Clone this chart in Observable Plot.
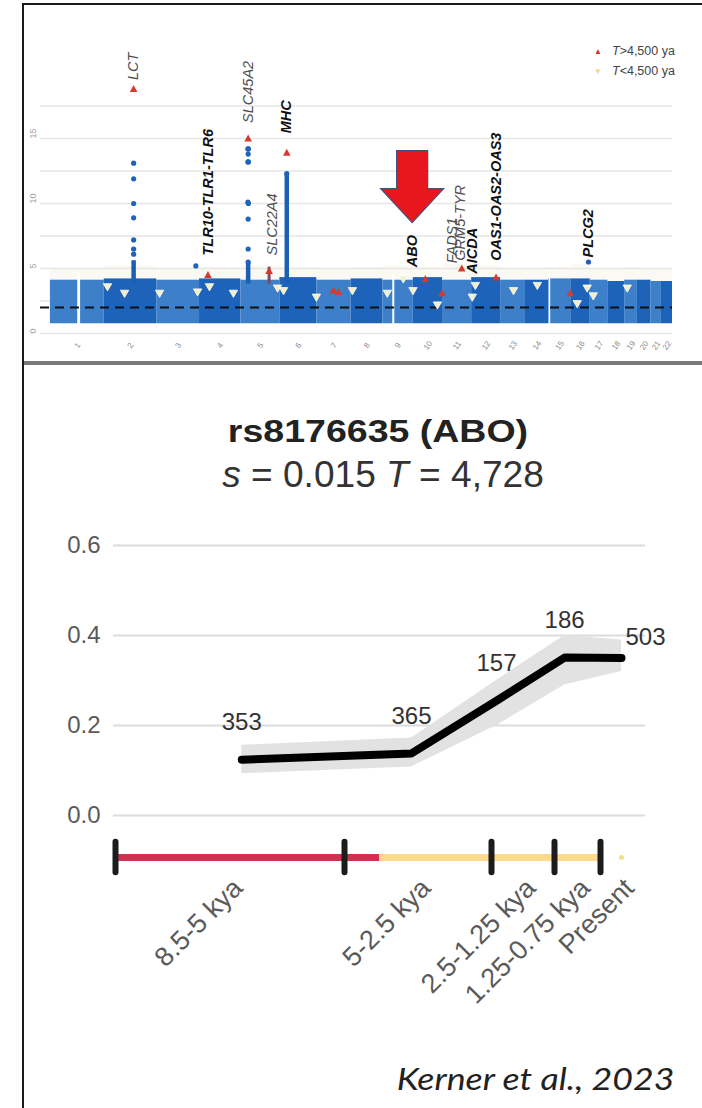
<!DOCTYPE html>
<html>
<head>
<meta charset="utf-8">
<script src="https://cdn.jsdelivr.net/npm/d3@7"></script>
<script src="https://cdn.jsdelivr.net/npm/@observablehq/plot@0.6"></script>
<style>
  html, body { margin: 0; padding: 0; background: #fff; }
  #page { position: relative; width: 702px; height: 1108px; overflow: hidden; font-family: "Liberation Sans", Arial, sans-serif; background: #fff; }
  #frame { position: absolute; left: 22px; top: 3px; width: 720px; height: 1140px; border: 2px solid #1a1a1a; box-sizing: border-box; }
  #sep { position: absolute; left: 24px; top: 361px; width: 678px; height: 4px; background: #7a7a7a; }
  #topPlot { position: absolute; left: 24px; top: 5px; }
  #bottomPlot { position: absolute; left: 24px; top: 500px; }
  .leg { position: absolute; font-size: 12.5px; color: #444; white-space: nowrap; line-height: 14px; }
  .title { position: absolute; left: 0; text-align: center; white-space: nowrap; line-height: 1; }
  #title { top: 416px; width: 756px; font-size: 31px; font-weight: bold; color: #222; transform: scaleX(1.21); transform-origin: 378px 0; }
  #subtitle { top: 457px; width: 766px; font-size: 36px; color: #333; transform: scaleX(1.03); transform-origin: 383px 0; }
  #caption { position: absolute; right: 28px; top: 1063px; font-family: Lato, "Open Sans", sans-serif; font-style: italic; font-size: 30px; color: #222; line-height: 1; white-space: nowrap; transform: scaleX(1.19); transform-origin: 100% 0; }
</style>
</head>
<body>
<div id="page">
  <div id="frame"></div>
  <div id="topPlot"></div>
  <div id="sep"></div>
  <div class="leg" style="left:594px; top:44px;"><span style="color:#c8342c; font-size:8px; position:relative; top:-1px;">&#9650;</span></div>
  <div class="leg" style="left:612px; top:44px;"><i>T</i>&gt;4,500 ya</div>
  <div class="leg" style="left:594px; top:64px;"><span style="color:#f4d27c; font-size:8px; position:relative; top:-1px;">&#9660;</span></div>
  <div class="leg" style="left:612px; top:64px;"><i>T</i>&lt;4,500 ya</div>
  <div id="title" class="title">rs8176635 (ABO)</div>
  <div id="subtitle" class="title"><i>s</i> = 0.015 <i>T</i> = 4,728</div>
  <div id="bottomPlot"></div>
  <div id="caption">Kerner et al., 2023</div>
</div>
<script>
// ---------------- Top panel: genome-wide scan (Manhattan-style) ----------------
const chromosomes = ["1","2","3","4","5","6","7","8","9","10","11","12","13","14","15","16","17","18","19","20","21","22"];
const chromLengthMb = [249.3, 243.2, 198.0, 191.2, 180.9, 171.1, 159.1, 146.4, 141.2, 135.5, 135.0, 133.9, 115.2, 107.3, 102.5, 90.4, 81.2, 78.1, 59.1, 63.0, 48.1, 51.3];
// approximate top of the dense band of SNPs per chromosome (-log10 p)
const bandTop = [4.1, 4.2, 4.1, 4.2, 4.1, 4.3, 4.1, 4.2, 4.1, 4.3, 4.1, 4.3, 4.1, 4.1, 4.2, 4.2, 4.1, 4.0, 4.1, 4.1, 4.0, 4.0];
// faint scatter of weaker SNPs above the dense band
const hazeTop = [5.0, 5.2, 5.0, 5.1, 5.2, 5.1, 5.0, 5.1, 5.2, 5.1, 5.3, 5.2, 5.0, 5.0, 5.1, 5.3, 5.0, 5.0, 5.1, 5.0, 5.0, 5.0];
const bandBottom = 0.75;
// gaps (no SNPs): [chromosome, startMb, endMb]
const bandGaps = [[1, 124, 142], [9, 44, 58], [15, 0, 12]];
// dense columns of significant SNPs: [chromosome, Mb, top]
const peakColumns = [[2, 136, 5.6], [5, 34, 5.5], [6, 32, 12.3]];
const spikeColumns = [[5, 131, 5.1]];
// individual significant SNPs (blue): [chromosome, Mb, value]
const blueSnps = [
  [2, 136, 13.1], [2, 136, 11.9], [2, 136, 10.0], [2, 136, 8.9], [2, 136, 7.2], [2, 136, 6.5], [2, 136, 6.1],
  [5, 33, 14.2], [5, 35, 14.2], [5, 34, 13.8], [5, 33, 13.2], [5, 35, 13.2], [5, 33, 10.1], [5, 35, 10.0], [5, 34, 8.8], [5, 34, 6.5], [5, 34, 5.5],
  [6, 32, 12.3], [3, 181, 5.2], [16, 82, 5.5]
];
// selection onset T > 4,500 ya (red, up triangles): [chromosome, Mb, value]
const oldSelection = [
  [2, 136, 18.8], [5, 34, 15.0], [6, 32, 13.9], [4, 39, 4.5], [5, 131, 4.8],
  [7, 77, 3.3], [7, 100, 3.2], [10, 56, 4.2], [10, 133, 3.1], [11, 89, 5.0], [12, 113, 4.3], [15, 100, 3.1]
];
// selection onset T < 4,500 ya (pale yellow, down triangles): [chromosome, Mb, value]
const recentSelection = [
  [2, 15, 3.6], [2, 94, 3.1], [3, 13, 3.1], [3, 189, 3.2], [4, 46, 3.6], [4, 157, 3.1], [5, 170, 3.5],
  [6, 17, 3.3], [6, 169, 2.8], [8, 6, 3.3], [9, 21, 3.1], [9, 95, 4.2], [9, 140, 3.3], [10, 112, 2.2],
  [12, 3, 2.8], [12, 17, 3.7], [13, 60, 3.3], [14, 55, 3.7], [16, 30, 2.3], [16, 76, 3.5], [17, 14, 2.9], [19, 12, 3.5]
];
// gene labels: [name, chromosome, Mb, label base value, bold]
const geneLabels = [
  ["LCT", 2, 136, 19.5, false],
  ["SLC45A2", 5, 34, 16.2, false],
  ["TLR10-TLR1-TLR6", 4, 40, 6.0, true],
  ["SLC22A4", 5, 147, 6.0, false],
  ["MHC", 6, 32, 15.4, true],
  ["ABO", 9, 136, 5.1, true],
  ["FADS1", 11, 47, 5.4, false],
  ["GRM5-TYR", 11, 84, 5.6, false],
  ["AICDA", 12, 5, 4.6, true],
  ["OAS1-OAS2-OAS3", 12, 113, 5.6, true],
  ["PLCG2", 16, 82, 5.85, true]
];
// highlighted locus (arrow): [chromosome, Mb, arrow centre value]
const highlight = [[9, 136, 11.3]];
const significanceLine = 2.0;
const gridTicksTop = [0, 2.5, 5, 7.5, 10, 12.5, 15, 17.5];
const labelTicksTop = [0, 5, 10, 15];

// cumulative genomic coordinate
const starts = [];
{ let acc = 0; for (const l of chromLengthMb) { starts.push(acc); acc += l; } }
const genomeEnd = starts[21] + chromLengthMb[21];
const gpos = (c, mb) => starts[c - 1] + mb;

const bands = chromosomes.map((c, i) => ({ x1: starts[i], x2: starts[i] + chromLengthMb[i], y1: bandBottom, y2: bandTop[i], haze: hazeTop[i], odd: i % 2 === 0 }));
const centers = chromosomes.map((c, i) => ({ label: c, x: starts[i] + chromLengthMb[i] / 2 }));
const toPt = ([c, mb, v]) => ({ x: gpos(c, mb), y: v });

const triDown = { draw(ctx) { ctx.moveTo(-4.2, -3); ctx.lineTo(4.2, -3); ctx.lineTo(0, 4.2); ctx.closePath(); } };
const triUp = { draw(ctx) { ctx.moveTo(-3.8, 3); ctx.lineTo(3.8, 3); ctx.lineTo(0, -4); ctx.closePath(); } };
const bigArrow = { draw(ctx) {
  const half = 36, sw = 15.5, hw = 31.5, neck = 2;
  ctx.moveTo(-sw, -half); ctx.lineTo(sw, -half); ctx.lineTo(sw, neck); ctx.lineTo(hw, neck);
  ctx.lineTo(0, half); ctx.lineTo(-hw, neck); ctx.lineTo(-sw, neck); ctx.closePath();
} };

const genes = geneLabels.map(([name, c, mb, v, bold]) => ({ name, x: gpos(c, mb), y: v, bold }));

const topPlot = Plot.plot({
  width: 678, height: 357,
  marginLeft: 16, marginRight: 30, marginTop: 3, marginBottom: 29,
  x: { domain: [-46, genomeEnd], axis: null },
  y: { domain: [0, 25], axis: null },
  style: { background: "transparent", fontFamily: "Liberation Sans, Arial, sans-serif" },
  marks: [
    Plot.ruleY(gridTicksTop, { stroke: "#e6e6e6", strokeWidth: 1.5 }),
    Plot.text(labelTicksTop, { y: d => d, frameAnchor: "left", dx: -7, rotate: -90, text: d => String(d), fontSize: 9, fill: "#a0a0a0" }),
    Plot.text(centers, { x: "x", y: () => 0, text: "label", dy: 12, rotate: -55, fontSize: 8, fill: "#8c8c8c" }),
    Plot.rect(bands, { x1: "x1", x2: "x2", y1: "y2", y2: "haze", fill: "#f0e8d2", fillOpacity: 0.25 }),
    Plot.rect(bands, { x1: "x1", x2: "x2", y1: "y1", y2: "y2", fill: d => d.odd ? "#3d7fc9" : "#1d63b9" }),
    Plot.rect(bandGaps.map(([c, a, b]) => ({ x1: gpos(c, a), x2: gpos(c, b) })), { x1: "x1", x2: "x2", y1: bandBottom - 0.2, y2: 4.6, fill: "#ffffff", insetLeft: 0.5, insetRight: 0.5 }),
    Plot.ruleX(peakColumns.map(toPt), { x: "x", y1: 3.8, y2: "y", stroke: "#1a5fb3", strokeWidth: 4.5 }),
    Plot.ruleX(spikeColumns.map(toPt), { x: "x", y1: 3.8, y2: "y", stroke: "#7d4a66", strokeWidth: 3 }),
    Plot.ruleY([significanceLine], { stroke: "#111", strokeWidth: 2, strokeDasharray: "9,6" }),
    Plot.dot(blueSnps.map(toPt), { x: "x", y: "y", r: 2.6, fill: "#1f63b8" }),
    Plot.dot(recentSelection.map(toPt), { x: "x", y: "y", r: 4, symbol: triDown, fill: "#f3efc6", stroke: "#ffffff", strokeWidth: 0.8 }),
    Plot.dot(oldSelection.map(toPt), { x: "x", y: "y", r: 4, symbol: triUp, fill: "#d63a2f" }),
    Plot.text(genes.filter(d => !d.bold), { x: "x", y: "y", text: "name", rotate: -90, textAnchor: "start", fontSize: 14.5, fontStyle: "italic", fill: "#505050" }),
    Plot.text(genes.filter(d => d.bold), { x: "x", y: "y", text: "name", rotate: -90, textAnchor: "start", fontSize: 14.5, fontStyle: "italic", fontWeight: "bold", fill: "#111" }),
    Plot.dot(highlight.map(toPt), { x: "x", y: "y", r: 10, symbol: bigArrow, fill: "#e8171d", stroke: "#40507a", strokeWidth: 1.2 })
  ]
});
document.getElementById("topPlot").appendChild(topPlot);

// ---------------- Bottom panel: allele frequency trajectory ----------------
const epochBoundsKya = [8.5, 5, 2.5, 1.25, 0.75, 0];
const epochLabels = ["8.5-5 kya", "5-2.5 kya", "2.5-1.25 kya", "1.25-0.75 kya", "Present"];
const epochLabelKya = [6.75, 3.75, 1.875, 1.0, 0];
const sampleKya = [6.57, 3.86, 2.4, 1.14, 0];
const alleleFreq = [0.124, 0.138, 0.255, 0.351, 0.350];
const freqLow = [0.093, 0.108, 0.200, 0.290, 0.320];
const freqHigh = [0.156, 0.172, 0.300, 0.400, 0.390];
const sampleSizes = [353, 365, 157, 186, 503];
const freqTicks = [0, 0.2, 0.4, 0.6];
const redSegmentEndKya = 4.4;   // end of red part of the timeline
const timelineLevel = -0.0933;  // vertical placement of timeline below the axis

const traj = sampleKya.map((k, i) => ({ kya: k, f: alleleFreq[i], lo: freqLow[i], hi: freqHigh[i], n: sampleSizes[i] }));
const epochs = epochLabels.map((l, i) => ({ label: l, kya: epochLabelKya[i] }));

const bottomPlot = Plot.plot({
  width: 678, height: 608,
  marginLeft: 89, marginRight: 57, marginTop: 45, marginBottom: 293,
  x: { type: "linear", domain: epochBoundsKya, range: [91, 320, 467, 530, 576, 597], axis: null },
  y: { domain: [0, 0.6], axis: null },
  style: { background: "transparent", fontFamily: "Liberation Sans, Arial, sans-serif" },
  marks: [
    Plot.ruleY(freqTicks, { stroke: "#dcdcdc", strokeWidth: 2 }),
    Plot.text(freqTicks, { y: d => d, frameAnchor: "left", dx: -13, textAnchor: "end", text: d => d.toFixed(1), fontSize: 24, fill: "#5a5a5a" }),
    Plot.areaY(traj, { x: "kya", y1: "lo", y2: "hi", fill: "#e2e2e2" }),
    Plot.line(traj, { x: "kya", y: "f", stroke: "#000", strokeWidth: 8, strokeLinejoin: "round", strokeLinecap: "round" }),
    Plot.text(traj.slice(0, 4), { x: "kya", y: "f", text: d => String(d.n), dy: -37, fontSize: 24, fill: "#333" }),
    Plot.text(traj.slice(4), { x: "kya", y: "f", text: d => String(d.n), dx: 24, dy: -21, fontSize: 24, fill: "#333" }),
    // timeline
    Plot.ruleY([timelineLevel], { x1: epochBoundsKya[0], x2: redSegmentEndKya, stroke: "#cc3350", strokeWidth: 7 }),
    Plot.ruleY([timelineLevel], { x1: redSegmentEndKya, x2: epochBoundsKya[4], stroke: "#fcd98c", strokeWidth: 7 }),
    Plot.dot([epochBoundsKya[5]], { x: d => d, y: () => timelineLevel, r: 2.5, fill: "#f5e08a" }),
    Plot.ruleX(epochBoundsKya.slice(0, 5), { x: d => d, y1: timelineLevel - 0.034, y2: timelineLevel + 0.034, stroke: "#1c1c1c", strokeWidth: 6, strokeLinecap: "round" }),
    Plot.text(epochs, { x: "kya", y: () => timelineLevel, text: "label", rotate: -45, textAnchor: "end", dx: 8, dy: 26, fontSize: 27, fill: "#5a5a5a" })
  ]
});
document.getElementById("bottomPlot").appendChild(bottomPlot);
</script>
</body>
</html>
